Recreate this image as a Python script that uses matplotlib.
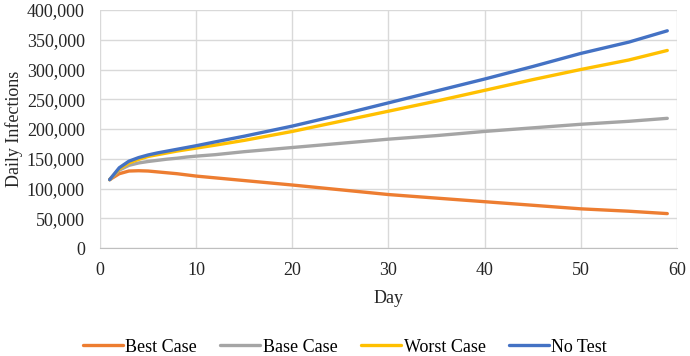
import matplotlib.pyplot as plt
from matplotlib.ticker import FuncFormatter

# values (thousands of daily infections)
days = [1, 2, 3, 4, 5, 6, 7, 8, 9, 10, 12, 15, 20, 25, 30, 35, 40, 45, 50, 55, 59]
best_case = [115, 125, 129.5, 130, 129.5, 128, 126.5, 125, 123, 121, 118, 113.5,
             106, 98, 90, 84, 78, 72, 66, 62, 58]
base_case = [115, 131, 139, 143, 145.5, 147.5, 149.5, 151, 153, 154.5, 157, 162,
             169, 176, 183, 189, 196, 202, 208, 213, 218]
worst_case = [115, 133, 143, 149, 154, 157, 160, 163, 165.5, 168, 173, 181,
              196, 213, 230, 247, 265, 283, 300, 316, 332]
no_test = [115, 135, 146, 152, 156.5, 160, 163, 166, 169, 172, 178.5, 188,
           205, 224, 244, 264, 284, 305, 327, 346, 365]

series = [
    ("Best Case", best_case, "#ED7D31"),
    ("Base Case", base_case, "#A5A5A5"),
    ("Worst Case", worst_case, "#FFC000"),
    ("No Test", no_test, "#4472C4"),
]

plt.rcParams['font.family'] = ['Liberation Serif', 'DejaVu Serif']

fig = plt.figure(figsize=(6.9, 3.56), dpi=100)
ax = fig.add_axes([0.145, 0.303, 0.836, 0.669])

for label, vals, color in series:
    ax.plot(days, [v * 1000 for v in vals], color=color, lw=2.4, label=label,
            solid_capstyle='round', solid_joinstyle='round')

ax.set_xlim(0, 60)
ax.set_ylim(0, 400000)
ax.set_xticks(range(0, 61, 10))
ax.set_yticks(range(0, 400001, 50000))
ax.yaxis.set_major_formatter(FuncFormatter(lambda v, p: f"{int(v):,}"))
ax.grid(True, color='#d9d9d9', lw=1)
ax.set_axisbelow(True)
for side in ['top', 'right', 'left']:
    ax.spines[side].set_visible(False)
ax.spines['bottom'].set_color('#bfbfbf')
ax.tick_params(length=0, labelsize=13, colors='#262626')
ax.tick_params(axis='x', pad=10)
ax.tick_params(axis='y', pad=11)

ax.set_xlabel("Day", fontsize=13, color='#262626', labelpad=8)
ax.set_ylabel("Daily Infections", fontsize=13, color='#262626')
ax.yaxis.set_label_coords(-0.133, 0.5)

fig.legend(loc='center', bbox_to_anchor=(0.5, 0.025), ncol=4, frameon=False,
           fontsize=13, handlelength=2.2, columnspacing=1.3, handletextpad=0.15)

fig.savefig("out.png", dpi=100)
